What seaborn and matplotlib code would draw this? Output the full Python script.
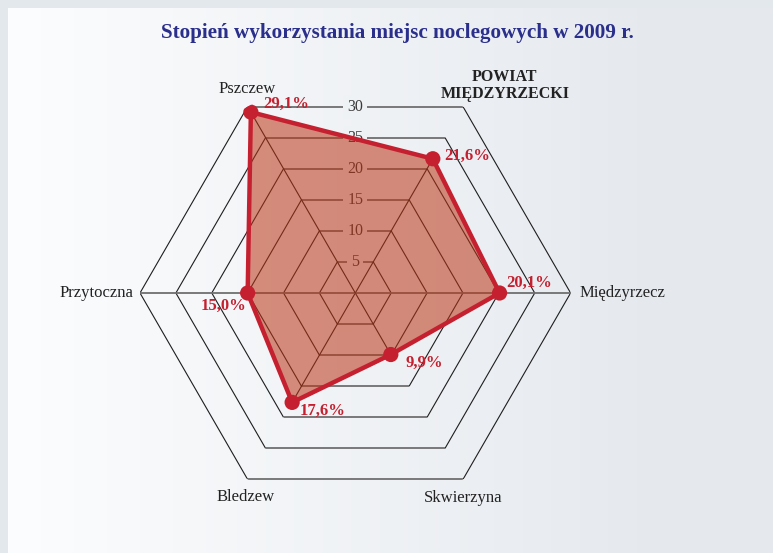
import numpy as np
import matplotlib
matplotlib.use("Agg")
import matplotlib.pyplot as plt
import seaborn as sns

# ---- data ----
categories = ["POWIAT\nMIĘDZYRZECKI", "Międzyrzecz", "Skwierzyna", "Bledzew", "Przytoczna", "Pszczew"]
values = [21.6, 20.1, 9.9, 17.6, 15.0, 29.1]
value_labels = ["21,6%", "20,1%", "9,9%", "17,6%", "15,0%", "29,1%"]
ticks = [5, 10, 15, 20, 25, 30]
title = "Stopień wykorzystania miejsc noclegowych w 2009 r."

sns.set_style("white")
plt.rcParams['font.family'] = ['Liberation Serif', 'DejaVu Serif']

W, H = 773, 553
fig = plt.figure(figsize=(W / 100, H / 100), dpi=100)

# ---- background gradient panel ----
bg = fig.add_axes([0, 0, 1, 1], zorder=-10)
xs = np.arange(W)
left_c = np.array([252, 253, 254]) / 255
right_c = np.array([229, 233, 238]) / 255
t = np.clip((xs - 8) / (665 - 8), 0, 1)
row = left_c[None, :] * (1 - t[:, None]) + right_c[None, :] * t[:, None]
img = np.repeat(row[None, :, :], H, axis=0)
frame = np.array([227, 232, 236]) / 255
img[:8, :] = frame
img[:, :8] = frame
bg.imshow(img, aspect='auto', interpolation='nearest')
bg.axis('off')

# ---- polar axes ----
cx, cy, R = 355.3, 293.0, 215.3
ax = fig.add_axes([(cx - R) / W, (H - cy - R) / H, 2 * R / W, 2 * R / H], projection='polar')
ax.set_facecolor('none')
ax.grid(False)
ax.spines['polar'].set_visible(False)
ax.set_xticks([])
ax.set_yticks([])

n = len(categories)
theta = np.deg2rad([60, 0, 300, 240, 180, 120])

dark = '#1e1e1e'
gray = '#6f6f6f'

# data polygon fill (created first so it can serve as clip path)
th_c = np.append(theta, theta[0])
v_c = np.append(values, values[0])
red = '#c5202f'
fill_patch = ax.fill(th_c, v_c, color=(187/255, 52/255, 20/255), alpha=0.55, lw=0, zorder=3)[0]

# rings
for r in ticks:
    for k in range(n):
        a1, a2 = theta[k], theta[(k + 1) % n]
        horiz = k in (2, 5)
        ax.plot([a1, a2], [r, r], color=gray if horiz else dark,
                lw=1.3 if horiz else 0.8, zorder=1, solid_capstyle='butt')
# spokes (horizontal axis full, others only visible inside the data area)
for k in range(n):
    horiz = k in (1, 4)
    ln, = ax.plot([theta[k], theta[k]], [0, ticks[-1]], color=gray if horiz else dark,
                  lw=1.3 if horiz else 0.8, zorder=1)
    if not horiz:
        ln.set_clip_path(fill_patch)

# scale labels on vertical line
for r in ticks:
    ax.text(np.pi / 2, r * np.cos(np.pi / 6), str(r), ha='center', va='center',
            fontsize=11.5, color='#3a3a3a', zorder=2,
            bbox=dict(boxstyle='square,pad=0.25', fc=(239/255, 242/255, 245/255), ec='none'))

sns.lineplot(x=th_c, y=v_c, sort=False, estimator=None, color=red, lw=3.2, ax=ax, zorder=4)
sns.scatterplot(x=theta, y=values, s=120, color=red, edgecolor='none', zorder=5, ax=ax)
ax.set_xlabel('')
ax.set_ylabel('')
ax.set_ylim(0, 30)

# value labels
val_off = [(11, 3, 'left'), (7, 10, 'left'), (15, -8, 'left'),
           (7, -8, 'left'), (-1, -13, 'right'), (12, 8, 'left')]
for k in range(n):
    dx, dy, ha = val_off[k]
    ax.annotate(value_labels[k], xy=(theta[k], values[k]), xytext=(dx, dy),
                textcoords='offset pixels', ha=ha, va='center', fontsize=12,
                fontweight='bold', color=red, zorder=6)

# category labels
cat_off = [(42, 21, 'center'), (9, 0, 'left'), (0, -19, 'center'),
           (-2, -18, 'center'), (-7, 0, 'right'), (-1, 18, 'center')]
for k in range(n):
    dx, dy, ha = cat_off[k]
    ax.annotate(categories[k], xy=(theta[k], ticks[-1]), xytext=(dx, dy),
                textcoords='offset pixels', ha=ha, va='center',
                fontsize=11.5 if k == 0 else 12, multialignment='center',
                linespacing=1.05,
                fontweight='bold' if k == 0 else 'normal', color='#222222', zorder=6)

fig.text(397.5 / W, 1 - 33 / H, title, ha='center', va='center', fontsize=15.2,
         fontweight='bold', color='#2b2f8c')

fig.savefig('out.png', dpi=100)
